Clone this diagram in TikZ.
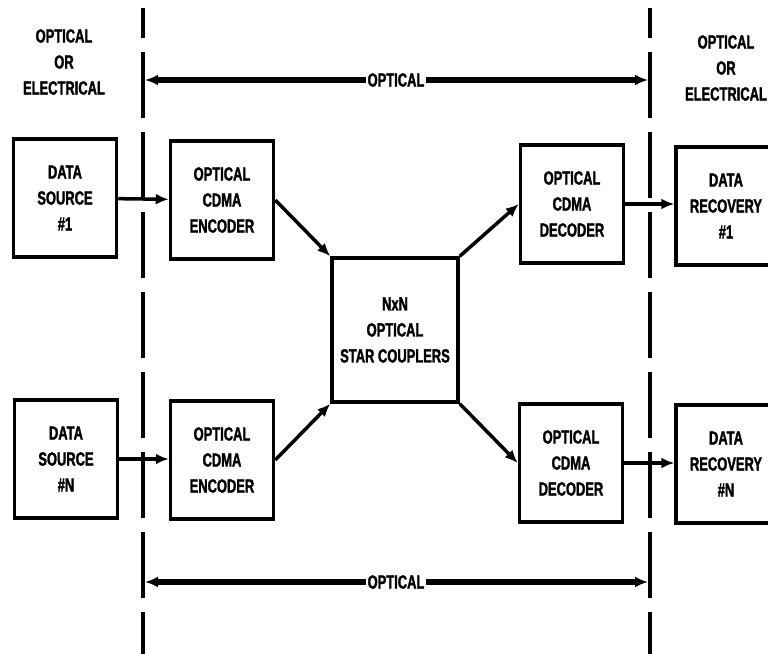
\documentclass[tikz,border=0pt]{standalone}
\usepackage{fontspec}
\setmainfont{Liberation Sans}[FakeStretch=0.68, BoldFeatures={FakeStretch=0.68, FakeBold=1.6}]
\usepackage{tikz}
\usetikzlibrary{arrows.meta, positioning}
\colorlet{CDMAink}{black}

\begin{document}
\begin{tikzpicture}[x=1pt, y=-1pt, CDMAink,
    blk/.style={draw, line width=3.5pt, minimum width=103pt, minimum height=118pt,
      align=center, font=\fontsize{19}{26}\selectfont\bfseries},
    lbl/.style={align=center, font=\fontsize{19}{26}\selectfont\bfseries},
    flow/.style={line width=3.5pt, -{Latex[length=13pt,width=11pt]}},
    span/.style={line width=5.5pt, {Latex[length=13pt,width=11pt]}-{Latex[length=13pt,width=11pt]}},
    bound/.style={line width=3.5pt, dash pattern=on 66pt off 14pt, dash phase=28pt}]
  \useasboundingbox (0,0) rectangle (768,653);

  % boundaries between the zones
  \coordinate (lt) at (143,8);
  \coordinate (lb) at (143,660);
  \coordinate (rt) at (650,8);
  \coordinate (rb) at (650,660);
  \draw[bound, dash phase=36pt] (lt) -- (lb);
  \draw[bound, dash phase=36pt] (rt) -- (rb);

  \node[lbl] (zl) at (64,62) {OPTICAL\\OR\\ELECTRICAL};
  \node[lbl] (zr) at (726,68) {OPTICAL\\OR\\ELECTRICAL};

  % optical spans
  \coordinate (ta) at (145,80);
  \coordinate (tb) at (648,80);
  \coordinate (ba) at (145,582);
  \coordinate (bb) at (648,582);
  \draw[span] (ta) -- (tb);
  \draw[span] (ba) -- (bb);
  \node[lbl, fill=white, inner sep=2pt] (to) at (396,80) {OPTICAL};
  \node[lbl, fill=white, inner sep=2pt] (bo) at (396,582) {OPTICAL};

  % blocks
  \node[blk] (src1) at (65,198) {DATA\\SOURCE\\\#1};
  \node[blk] (srcN) at (66,459) {DATA\\SOURCE\\\#N};
  \node[blk] (enc1) at (222,200) {OPTICAL\\CDMA\\ENCODER};
  \node[blk] (encN) at (222,460) {OPTICAL\\CDMA\\ENCODER};
  \node[blk, minimum width=126pt, minimum height=144pt] (cpl) at (395,330)
    {NxN\\OPTICAL\\STAR COUPLERS};
  \node[blk] (dec1) at (572,204) {OPTICAL\\CDMA\\DECODER};
  \node[blk] (decN) at (571,463) {OPTICAL\\CDMA\\DECODER};
  \node[blk, minimum width=100pt] (rec1) at (726,206) {DATA\\RECOVERY\\\#1};
  \node[blk, minimum width=100pt] (recN) at (726,464) {DATA\\RECOVERY\\\#N};

  % connections
  \draw[flow] (src1) -- (enc1);
  \draw[flow] (srcN) -- (srcN -| encN.west);
  \draw[flow] (enc1.east) -- (cpl.north west);
  \draw[flow] (encN.east) -- (cpl.south west);
  \draw[flow] (cpl.north east) -- (dec1.west);
  \draw[flow] (cpl.south east) -- (decN.west);
  \draw[flow] (dec1.east) -- (dec1.east -| rec1.west);
  \draw[flow] (decN.east) -- (decN.east -| recN.west);
\end{tikzpicture}
\end{document}
